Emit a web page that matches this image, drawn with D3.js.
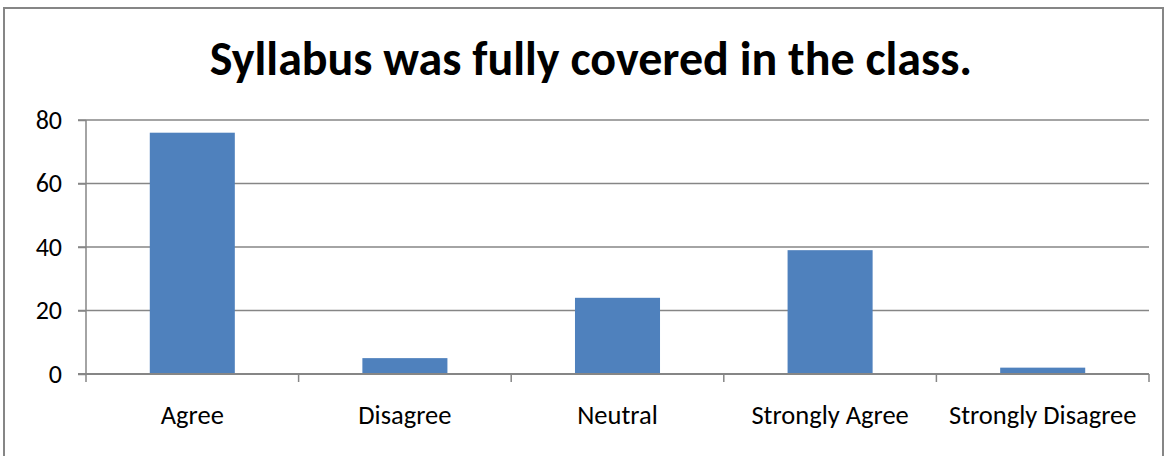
<!DOCTYPE html>
<html><head><meta charset="utf-8">
<script src="https://cdn.jsdelivr.net/npm/d3@7"></script>
<style>body{margin:0;background:#fff}svg{display:block}</style>
</head><body>
<svg id="c" width="1167" height="456"></svg>
<script>
const categories = ["Agree","Disagree","Neutral","Strongly Agree","Strongly Disagree"];
const values = [76, 5, 24, 39, 2];
const yTicks = [0, 20, 40, 60, 80];
const title = "Syllabus was fully covered in the class.";

const svg = d3.select("#c");
const m = {left: 86, right: 1149, top: 120, bottom: 374};
const font = "Carlito, Calibri, 'Open Sans', 'Noto Sans', sans-serif";

svg.append("rect").attr("x", 4).attr("y", 8).attr("width", 1159).attr("height", 460)
  .attr("fill", "#fff").attr("stroke", "#868686").attr("stroke-width", 2);

const x = d3.scaleBand().domain(categories).range([m.left, m.right]).paddingInner(0).paddingOuter(0);
const y = d3.scaleLinear().domain([0, 80]).range([m.bottom, m.top]);

svg.append("g").selectAll("line").data(yTicks.filter(d => d > 0)).join("line")
  .attr("x1", m.left - 8).attr("x2", m.right)
  .attr("y1", d => y(d)).attr("y2", d => y(d))
  .attr("stroke", "#868686").attr("stroke-width", 1.5);

const bw = x.bandwidth() * 0.4;
svg.append("g").selectAll("rect").data(values).join("rect")
  .attr("x", (d, i) => x(categories[i]) + (x.bandwidth() - bw) / 2)
  .attr("width", bw)
  .attr("y", d => y(d)).attr("height", d => y(0) - y(d))
  .attr("fill", "#4f81bd");

const ya = svg.append("g").attr("transform", `translate(${m.left},0)`)
  .call(d3.axisLeft(y).tickValues(yTicks).tickSize(8).tickPadding(16));
ya.select(".domain").attr("stroke", "#868686").attr("stroke-width", 1.5).attr("d", `M0,${m.top}V${m.bottom}`);
ya.selectAll(".tick line").attr("stroke", "#868686").attr("stroke-width", 1.5);
ya.selectAll(".tick text").attr("font-family", font).attr("font-size", 26).attr("fill", "#000");

const xa = svg.append("g").attr("transform", `translate(0,${m.bottom})`)
  .call(d3.axisBottom(x).tickSize(0).tickPadding(31));
xa.select(".domain").attr("stroke", "#868686").attr("stroke-width", 2).attr("d", `M${m.left - 8},0H${m.right}`);
xa.selectAll(".tick text").attr("font-family", font).attr("font-size", 26.5).attr("fill", "#000");
const bounds = categories.map(c => x(c)).concat([m.right]);
xa.append("g").selectAll("line").data(bounds).join("line")
  .attr("x1", d => d).attr("x2", d => d).attr("y1", 0).attr("y2", 8)
  .attr("stroke", "#868686").attr("stroke-width", 1.5);

svg.append("text").attr("x", 591).attr("y", 75).attr("text-anchor", "middle")
  .attr("font-family", font).attr("font-weight", "bold").attr("font-size", 48)
  .attr("fill", "#000").text(title);
</script>
</body></html>
